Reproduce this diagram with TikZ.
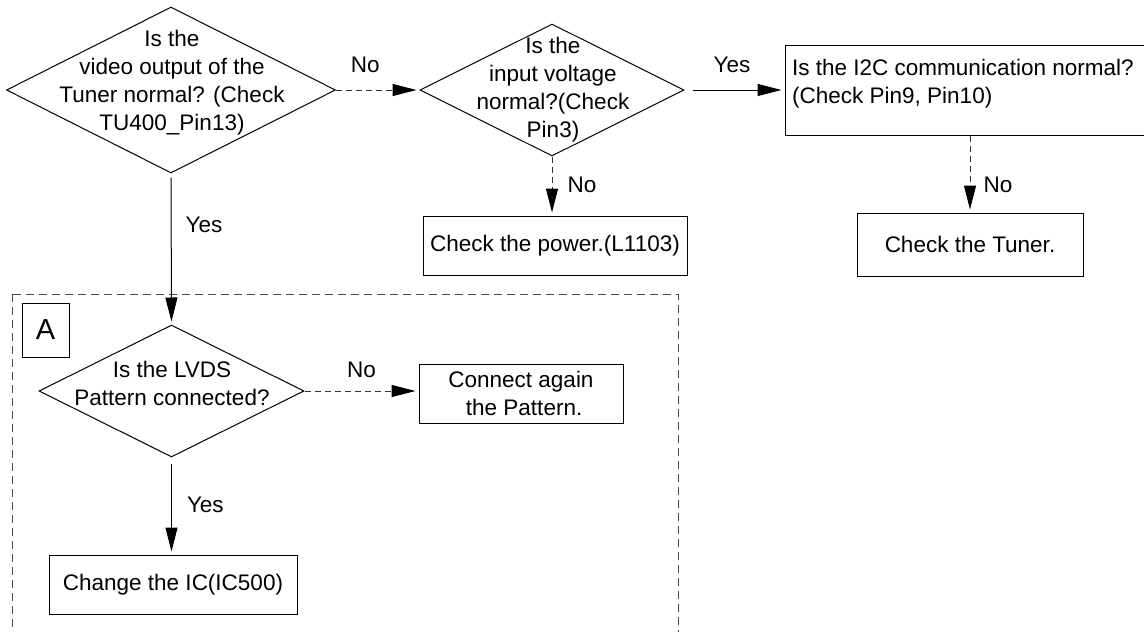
\documentclass[tikz,border=0pt]{standalone}
\usepackage{fontspec}
\setmainfont{Liberation Sans}
\usetikzlibrary{arrows.meta,shapes.geometric}
\begin{document}
\begin{tikzpicture}[x=1pt,y=-1pt,
  txt/.style={font=\fontsize{22.5}{28}\selectfont, align=center, inner sep=0pt},
  dia/.style={draw, diamond, inner sep=0pt, line width=1pt},
  box/.style={draw, rectangle, line width=1pt, font=\fontsize{22.5}{28}\selectfont, align=center, inner sep=0pt},
  arr/.style={line width=1pt, shorten >=3pt, -{Triangle[length=24pt,width=12pt,color=black]}},
  darr/.style={arr, dash pattern=on 6pt off 4pt, draw=black!80},
  lbl/.style={font=\fontsize{22.5}{28}\selectfont, inner sep=0pt, text=black}
]
\useasboundingbox (0,0) rectangle (1144,632);
\clip (0,0) rectangle (1144,632);

% container A
\draw[black!70, line width=1pt, dash pattern=on 8pt off 5pt] (12.7,294) rectangle (678,660);
\node[box, minimum width=47pt, minimum height=54pt, font=\fontsize{29}{30}\selectfont] (A) at (45.5,330) {A};

% diamonds
\node[dia, minimum width=329pt, minimum height=166pt] (d1) at (171,90) {};
\node[txt] (t1) at (172,83) {Is the\\video output of the\\Tuner normal? (Check\\TU400\_Pin13)};

\node[dia, minimum width=264pt, minimum height=132pt] (d2) at (552,90) {};
\node[txt] (t2) at (553,90) {Is the\\input voltage\\normal?(Check\\Pin3)};

\node[dia, minimum width=265pt, minimum height=132pt] (d3) at (171.5,391) {};
\node[txt] (t3) at (172,383) {Is the LVDS\\Pattern connected?};

% boxes
\node[box, minimum width=368pt, minimum height=90pt] (i2c) at (969,90) {};
\node[txt, align=left, anchor=west] (ti2c) at (792,84) {Is the I2C communication normal?\\(Check Pin9, Pin10)};

\node[box, minimum width=264pt, minimum height=59pt] (power) at (555,245.5) {Check the power.(L1103)};
\node[box, minimum width=226pt, minimum height=63pt] (tuner) at (970,244.5) {Check the Tuner.};
\node[box, minimum width=204pt, minimum height=59pt] (pat) at (521,393.5) {Connect again\\\ the Pattern.};
\node[box, minimum width=248pt, minimum height=59pt] (ic) at (173,584.5) {Change the IC(IC500)};

% connectors
\draw[darr] (d1.east) -- node[lbl, pos=.35, above=17pt] {No} (d2.west);
\draw[arr, shorten <=8pt] (d2.east) -- node[lbl, pos=.475, above=17pt] {Yes} (i2c.west |- d2.east);
\draw[darr] (d2.south) -- node[lbl, pos=.48, right=15pt] {No} (d2.south |- power.north);
\draw[darr] (i2c.south -| tuner.north) -- node[lbl, pos=.64, right=13pt] {No} (tuner.north);
\draw[arr, shorten <=4pt] (d1.south) -- node[lbl, pos=.34, right=14pt] {Yes} (d3.north);
\draw[darr] (d3.east) -- node[lbl, pos=.5, above=13pt] {No} (d3.east -| pat.west);
\draw[arr, shorten <=6pt] (d3.south) -- node[lbl, pos=.49, right=15pt] {Yes} (d3.south |- ic.north);
\end{tikzpicture}
\end{document}
